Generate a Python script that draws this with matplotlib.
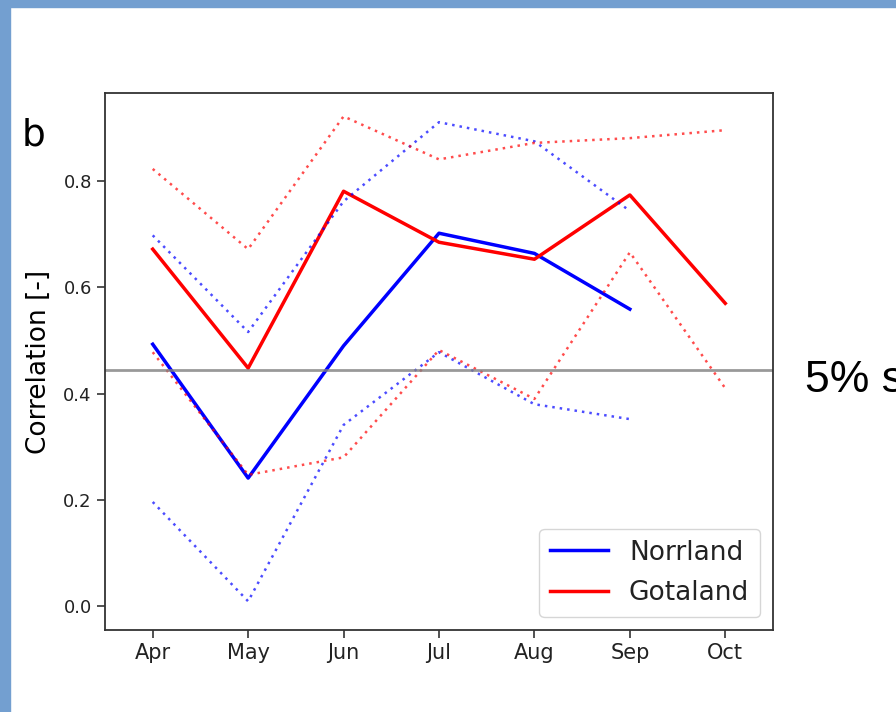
import matplotlib.pyplot as plt
from matplotlib.patches import Rectangle

months = ["Apr", "May", "Jun", "Jul", "Aug", "Sep", "Oct"]

# mean correlation per month
norrland = [0.493, 0.241, 0.49, 0.702, 0.664, 0.559]
gotaland = [0.672, 0.448, 0.781, 0.685, 0.653, 0.774, 0.570]

# spread around the mean
norrland_hi = [0.698, 0.516, 0.762, 0.911, 0.875, 0.744]
norrland_lo = [0.196, 0.009, 0.341, 0.478, 0.380, 0.352]
gotaland_hi = [0.823, 0.672, 0.922, 0.841, 0.872, 0.881, 0.896]
gotaland_lo = [0.478, 0.247, 0.280, 0.482, 0.390, 0.666, 0.410]

signif_level = 0.444

fig = plt.figure(figsize=(8.96, 7.12), dpi=100)

# slide frame
fig.patches.append(Rectangle((0, 1 - 7 / 712), 1, 7 / 712, transform=fig.transFigure,
                             color="#739fd0", zorder=0))
fig.patches.append(Rectangle((0, 0), 10 / 896, 1, transform=fig.transFigure,
                             color="#739fd0", zorder=0))

ax = fig.add_axes([0.1172, 0.1152, 0.7455, 0.7542])

xn = range(len(norrland))
xg = range(len(gotaland))

dots = (0, (1, 2))
ax.plot(xn, norrland, color="blue", lw=2.5, label="Norrland")
ax.plot(xg, gotaland, color="red", lw=2.5, label="Gotaland")
ax.plot(xn, norrland_hi, color="blue", ls=dots, lw=1.8, alpha=0.7)
ax.plot(xn, norrland_lo, color="blue", ls=dots, lw=1.8, alpha=0.7)
ax.plot(xg, gotaland_hi, color="red", ls=dots, lw=1.8, alpha=0.7)
ax.plot(xg, gotaland_lo, color="red", ls=dots, lw=1.8, alpha=0.7)

ax.axhline(signif_level, color="gray", lw=2, alpha=0.8)

ax.set_xlim(-0.5, 6.5)
ax.set_ylim(-0.045, 0.966)
ax.set_xticks(range(len(months)))
ax.set_xticklabels(months, fontsize=15, color="#222222")
ax.set_yticks([0.0, 0.2, 0.4, 0.6, 0.8])
ax.tick_params(axis="y", labelsize=13, labelcolor="#222222")
ax.tick_params(length=6, width=1.2, color="#333333")
for sp in ax.spines.values():
    sp.set_linewidth(1.3)
    sp.set_color("#333333")

ax.set_ylabel("Correlation [-]", fontsize=19, labelpad=8)
leg = ax.legend(loc="lower right", fontsize=19, handlelength=2.2, labelspacing=0.55)
for t in leg.get_texts():
    t.set_color("#222222")

fig.text(22 / 896, 1 - 145 / 712, "b", fontsize=27)
fig.text(805 / 896, 1 - 392 / 712, "5% s", fontsize=32, family="Liberation Sans")

fig.savefig("out.png", dpi=100)
